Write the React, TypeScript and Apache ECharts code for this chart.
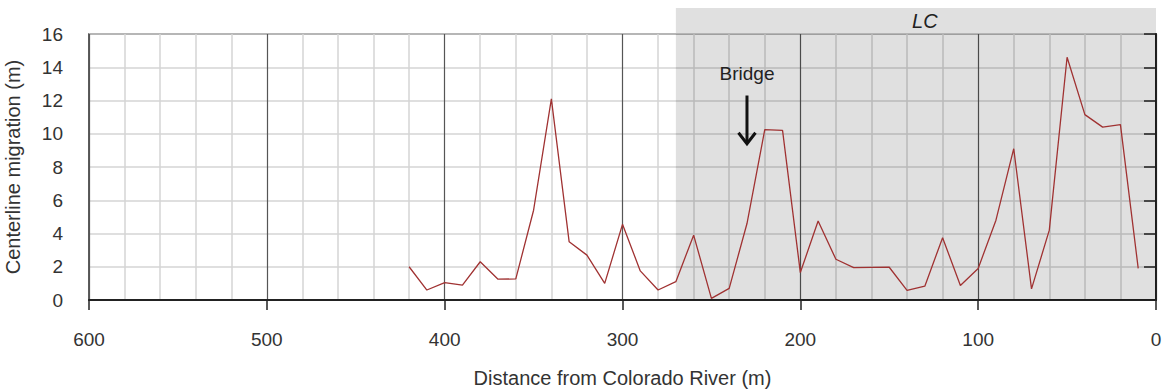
import React, { useEffect, useRef } from "react";
import * as echarts from "echarts";

// Distance upstream from the Colorado River confluence (m)
const distance = [
  420, 410, 400, 390, 380, 370, 360, 350, 340, 330, 320, 310, 300, 290, 280,
  270, 260, 250, 240, 230, 220, 210, 200, 190, 180, 170, 160, 150, 140, 130,
  120, 110, 100, 90, 80, 70, 60, 50, 40, 30, 20, 10,
];
// Centerline migration at each station (m)
const migration = [
  2.0, 0.6, 1.05, 0.9, 2.3, 1.25, 1.27, 5.4, 12.1, 3.5, 2.7, 1.0, 4.55, 1.75,
  0.6, 1.1, 3.9, 0.1, 0.7, 4.6, 10.25, 10.2, 1.65, 4.75, 2.45, 1.95, 1.96,
  1.97, 0.58, 0.83, 3.75, 0.87, 1.9, 4.8, 9.1, 0.67, 4.2, 14.6, 11.15, 10.4,
  10.55, 1.9,
];

// Reach labelled "LC" (from, to) in metres
const lcReach = [270, 0];
const lcLabelAt = 130;
// Bridge location and arrow extent (m, m)
const bridgeAt = 230;
const bridgeArrow = [12.3, 9.4];
const bridgeLabelY = 13.65;

const FONT = "'Liberation Sans', Arial, Helvetica, sans-serif";

export default function App() {
  const ref = useRef<HTMLDivElement>(null);

  useEffect(() => {
    document.body.style.margin = "0";
    const chart = echarts.init(ref.current!, null, { renderer: "svg" });
    const gridTop = 34;

    chart.setOption({
      animation: false,
      textStyle: { fontFamily: FONT },
      grid: {
        left: 89,
        right: 11,
        top: gridTop,
        bottom: 92,
        outerBoundsMode: "none",
        containLabel: false,
        show: true,
        borderColor: "#2a2a2a",
        borderWidth: 1.5,
        backgroundColor: "transparent",
      },
      xAxis: {
        type: "value",
        min: 0,
        max: 600,
        interval: 100,
        inverse: true,
        name: "Distance from Colorado River (m)",
        nameLocation: "middle",
        nameGap: 68,
        nameTextStyle: { fontSize: 20, color: "#333", fontFamily: FONT },
        axisLine: { show: true, onZero: false, lineStyle: { color: "#222", width: 2 } },
        axisTick: { show: true, inside: false, length: 10, lineStyle: { color: "#222", width: 1.5 } },
        axisLabel: { fontSize: 19, color: "#333", margin: 30, fontFamily: FONT },
        splitLine: { show: true, lineStyle: { color: "#555", width: 1.2 } },
        minorTick: { show: false, splitNumber: 5 },
        minorSplitLine: { show: true, lineStyle: { color: "#d4d4d4", width: 1.5 } },
      },
      yAxis: {
        type: "value",
        min: 0,
        max: 16,
        interval: 2,
        name: "Centerline migration (m)",
        nameLocation: "middle",
        nameGap: 66,
        nameTextStyle: { fontSize: 20, color: "#333", fontFamily: FONT },
        axisLine: { show: true, lineStyle: { color: "#222", width: 2 } },
        axisTick: { show: true, length: 12, lineStyle: { color: "#222", width: 1.5 } },
        axisLabel: { fontSize: 19, color: "#333", margin: 26, fontFamily: FONT },
        splitLine: { show: true, lineStyle: { color: "#d4d4d4", width: 1.5 } },
      },
      series: [
        {
          type: "line",
          data: [],
          z: 1,
          silent: true,
          markArea: {
            silent: true,
            itemStyle: { color: "rgba(0,0,0,0.12)" },
            data: [[{ xAxis: lcReach[0] }, { xAxis: lcReach[1] }]],
          },
        },
        {
          type: "line",
          z: 3,
          data: distance.map((d, i) => [d, migration[i]]),
          showSymbol: false,
          symbol: "none",
          lineStyle: { color: "#a03232", width: 1.3 },
        },
      ],
    });

    // Annotations positioned through the axes
    const px = (x: number, y: number) =>
      chart.convertToPixel({ gridIndex: 0 }, [x, y]) as number[];
    const [lcX0] = px(lcReach[0], 16);
    const [lcX1] = px(lcReach[1], 16);
    const [lcTextX] = px(lcLabelAt, 16);
    const [bx, byTop] = px(bridgeAt, bridgeArrow[0]);
    const [, byTip] = px(bridgeAt, bridgeArrow[1]);
    const [, byLabel] = px(bridgeAt, bridgeLabelY);

    chart.setOption({
      graphic: [
        {
          type: "rect",
          shape: { x: lcX0, y: 8, width: lcX1 - lcX0, height: gridTop - 8 },
          style: { fill: "#e0e0e0" },
          z: -1,
          silent: true,
        },
        {
          type: "text",
          x: lcTextX,
          y: 21,
          style: {
            text: "LC",
            fontSize: 20,
            fontStyle: "italic",
            fontFamily: FONT,
            fill: "#222",
            align: "center",
            verticalAlign: "middle",
          },
        },
        {
          type: "text",
          x: bx,
          y: byLabel,
          z: 10,
          style: {
            text: "Bridge",
            fontSize: 19,
            fontFamily: FONT,
            fill: "#222",
            align: "center",
            verticalAlign: "middle",
          },
        },
        {
          type: "line",
          z: 10,
          shape: { x1: bx, y1: byTop, x2: bx, y2: byTip - 2 },
          style: { stroke: "#111", lineWidth: 3 },
        },
        {
          type: "polyline",
          z: 10,
          shape: { points: [[bx - 8.5, byTip - 11], [bx, byTip], [bx + 8.5, byTip - 11]] },
          style: { stroke: "#111", lineWidth: 3, fill: "none" },
        },
      ],
    });

    return () => chart.dispose();
  }, []);

  return <div ref={ref} style={{ width: 1167, height: 392 }} />;
}
